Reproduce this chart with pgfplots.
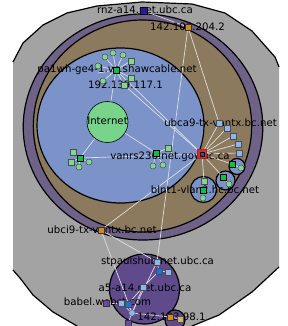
\documentclass[border=0pt]{standalone}
\usepackage{pgfplots}
\pgfplotsset{compat=1.18}
\usepackage{fontspec}
\setmainfont{DejaVu Sans}
\definecolor{bggray}{HTML}{A3A3A3}
\definecolor{ring}{HTML}{6E6288}
\definecolor{tanc}{HTML}{8C7A5E}
\definecolor{lblue}{HTML}{7B93C8}
\definecolor{inet}{HTML}{78D48B}
\definecolor{lgreen}{HTML}{80D890}
\definecolor{dgreen}{HTML}{10C040}
\definecolor{sqblue}{HTML}{8DB5F2}
\definecolor{dblue}{HTML}{1E6EE6}
\definecolor{navy}{HTML}{2A189E}
\definecolor{orng}{HTML}{D8881A}
\definecolor{tanlt}{HTML}{D8B070}
\definecolor{purp}{HTML}{5F4B8B}
\definecolor{psq}{HTML}{6A48A8}
\definecolor{edge}{HTML}{DEDEDE}
\definecolor{rednode}{HTML}{E02A2A}
\tikzset{lbl/.style={font=\fontsize{10.2}{12}\selectfont, text=black, inner sep=0pt}}
\pgfplotsset{
  ed/.style={color=edge, line width=0.7pt, mark=none},
  bigc/.style n args={3}{only marks, mark=*, mark size=#2, mark options={fill=#1, draw=black, line width=1.2pt, xscale=#3}},
}
\begin{document}
\begin{tikzpicture}
\begin{axis}[
  width=287pt, height=326pt, scale only axis,
  xmin=0, xmax=287, ymin=0, ymax=326, y dir=reverse,
  hide axis, clip=true, clip marker paths=true,
]
% gray background region
\addplot[fill=bggray, draw=none] coordinates {
(13,62) (23,43) (43,25) (67,13) (97,6) (142,2) (192,4) (225,13) (252,31) (275,57) (279,67)
(279,267) (252,292) (219,315) (192,326) (185,340) (85,340) (77,326) (53,312) (33,295) (20,278) (13,270)
} -- cycle;
\addplot[black, line width=1.2pt, mark=none] coordinates {
(13,62) (23,43) (43,25) (67,13) (97,6) (142,2) (192,4) (225,13) (252,31) (275,57) (279,67)};
\addplot[black, line width=1.2pt, mark=none] coordinates {
(13,270) (20,278) (33,295) (53,312) (77,326) (85,340)};
\addplot[black, line width=1.2pt, mark=none] coordinates {
(279,267) (252,292) (219,315) (192,326) (185,340)};
% rings
\addplot[bigc={ring}{113}{1.06}] coordinates {(143,127)};
\addplot[bigc={tanc}{106}{1.03}] coordinates {(142.5,126)};
\addplot[bigc={lblue}{77.5}{1.077}] coordinates {(120.5,125.5)};
% small clusters
\addplot[bigc={lblue}{8}{1}] coordinates {(237,166.5)};
\addplot[bigc={lblue}{9.5}{1}] coordinates {(225.5,180.5)};
\addplot[bigc={lblue}{13}{1}] coordinates {(203.5,189.5)};
\addplot[bigc={purp}{35}{1}] coordinates {(144.5,289)};
\addplot[bigc={purp}{10}{1}] coordinates {(175,320)};
% edges
\addplot[ed] coordinates {(144,11) (188,27)};
\addplot[ed] coordinates {(188,27) (157,262)};
\addplot[ed] coordinates {(188,27) (219,123)};
\addplot[ed] coordinates {(116,70) (107.5,122)};
\addplot[ed] coordinates {(116,70) (202,154)};
\addplot[ed] coordinates {(124,85) (202,154)};
\addplot[ed] coordinates {(116,70) (105,57)};
\addplot[ed] coordinates {(116,70) (113,53)};
\addplot[ed] coordinates {(116,70) (123,55)};
\addplot[ed] coordinates {(116,70) (98,66)};
\addplot[ed] coordinates {(116,70) (98,73)};
\addplot[ed] coordinates {(116,70) (103,81)};
\addplot[ed] coordinates {(116,70) (131,61)};
\addplot[ed] coordinates {(116,70) (131,78)};
\addplot[ed] coordinates {(116,70) (124,85)};
\addplot[ed] coordinates {(107.5,122) (80,158)};
\addplot[ed] coordinates {(107.5,122) (156,153)};
\addplot[ed] coordinates {(80,158) (202,154)};
\addplot[ed] coordinates {(80,158) (73,152)};
\addplot[ed] coordinates {(80,158) (71,162)};
\addplot[ed] coordinates {(80,158) (79,167)};
\addplot[ed] coordinates {(80,158) (89,162)};
\addplot[ed] coordinates {(156,153) (168,148)};
\addplot[ed] coordinates {(156,153) (153,166)};
\addplot[ed] coordinates {(156,153) (163,165)};
\addplot[ed] coordinates {(202,154) (219,123)};
\addplot[ed] coordinates {(202,154) (227,128)};
\addplot[ed] coordinates {(202,154) (233,136)};
\addplot[ed] coordinates {(202,154) (238,144)};
\addplot[ed] coordinates {(202,154) (239,153)};
\addplot[ed] coordinates {(202,154) (232,164)};
\addplot[ed] coordinates {(202,154) (223,177)};
\addplot[ed] coordinates {(202,154) (204,181)};
\addplot[ed] coordinates {(202,154) (101,230)};
\addplot[ed] coordinates {(232,164) (241,168)};
\addplot[ed] coordinates {(223,177) (229,184)};
\addplot[ed] coordinates {(204,181) (203,190) (203,198)};
\addplot[ed] coordinates {(101,230) (157,262)};
\addplot[ed] coordinates {(101,230) (132,313)};
\addplot[ed] coordinates {(157,262) (132,313)};
\addplot[ed] coordinates {(157,262) (159,271)};
\addplot[ed] coordinates {(159,271) (168,272)};
\addplot[ed] coordinates {(159,271) (143,287)};
\addplot[ed] coordinates {(143,287) (128,304)};
\addplot[ed] coordinates {(143,287) (132,313)};
\addplot[ed] coordinates {(128,304) (132,313)};
\addplot[ed] coordinates {(121,303) (132,313)};
\addplot[ed] coordinates {(106,303) (121,303)};
\addplot[ed] coordinates {(132,313) (128,323)};
\addplot[ed] coordinates {(132,313) (170,317)};
\addplot[ed] coordinates {(170,317) (180,319)};
% Internet
\addplot[only marks, mark=*, mark size=20.5, mark options={fill=inet, draw=black, line width=0.6pt}] coordinates {(107.5,122)};
% labels
\node[lbl] at (axis cs:145,10) {rnz-a14.net.ubc.ca};
\node[lbl] at (axis cs:187.5,27) {142.103.204.2};
\node[lbl] at (axis cs:117,70) {pa1wh-ge4-1.vc.shawcable.net};
\node[lbl] at (axis cs:125.5,84.5) {192.139.117.1};
\node[lbl] at (axis cs:107.5,121) {Internet};
\node[lbl] at (axis cs:220.5,123) {ubca9-tx-vantx.bc.net};
\node[lbl] at (axis cs:170,157) {vanrs236.net.gov.bc.ca};
\node[lbl] at (axis cs:205,190) {blnt1-vlan2.hc.bc.net};
\node[lbl] at (axis cs:102,229.5) {ubci9-tx-vantx.bc.net};
\node[lbl] at (axis cs:157.5,262) {stpaulshub.net.ubc.ca};
\node[lbl] at (axis cs:145,288) {a5-a14.net.ubc.ca};
\node[lbl] at (axis cs:107.5,302) {babel.webct.com};
\node[lbl] at (axis cs:171.5,317) {142.103.98.1};
% nodes
\addplot[only marks, mark=*, mark size=3, mark options={fill=lgreen, draw=black!70, line width=0.5pt}] coordinates {
(105,57) (113,53) (123,55) (98,66) (103,81) (79,167) (89,162) (153,166) (163,165) (241,168) (229,184) (203,198)};
\addplot[only marks, mark=square*, mark size=3, mark options={fill=lgreen, draw=black!70, line width=0.5pt}] coordinates {
(131,61) (131,78) (124,85) (73,152) (71,162) (168,148) (204,181)};
\addplot[only marks, mark=square*, mark size=3, mark options={fill=dgreen, draw=black, line width=0.6pt}] coordinates {
(116,70) (80,158) (156,153) (232,164) (223,177) (203,190)};
\addplot[only marks, mark=square*, mark size=3, mark options={fill=sqblue, draw=black!70, line width=0.5pt}] coordinates {
(219,123) (227,128) (233,136) (238,144) (239,153) (157,262) (168,272) (143,287) (121,303)};
\addplot[only marks, mark=square*, mark size=3, mark options={fill=dblue, draw=black!70, line width=0.5pt}] coordinates {
(159,271) (128,304)};
\addplot[only marks, mark=*, mark size=3.2, mark options={fill=sqblue, draw=black!60, line width=0.5pt}] coordinates {(132,313)};
\addplot[only marks, mark=square*, mark size=3.2, mark options={fill=psq, draw=black!80, line width=0.5pt}] coordinates {(106,303) (128,323)};
\addplot[only marks, mark=square*, mark size=3.5, mark options={fill=navy, draw=black, line width=0.6pt}] coordinates {(144,11)};
\addplot[only marks, mark=square*, mark size=3.2, mark options={fill=orng, draw=black!80, line width=0.5pt}] coordinates {(188,27) (101,230) (170,317)};
\addplot[only marks, mark=square*, mark size=3, mark options={fill=tanlt, draw=black!70, line width=0.5pt}] coordinates {(180,319)};
\addplot[only marks, mark=square*, mark size=4.5, mark options={fill=rednode, draw=rednode!80!black, line width=0.5pt}] coordinates {(202,154)};
\addplot[only marks, mark=square*, mark size=2.3, mark options={fill=dblue!80!black, draw=none}] coordinates {(202,154)};
\end{axis}
\pgfresetboundingbox
\useasboundingbox (current axis.south west) rectangle (current axis.north east);
\end{tikzpicture}
\end{document}
